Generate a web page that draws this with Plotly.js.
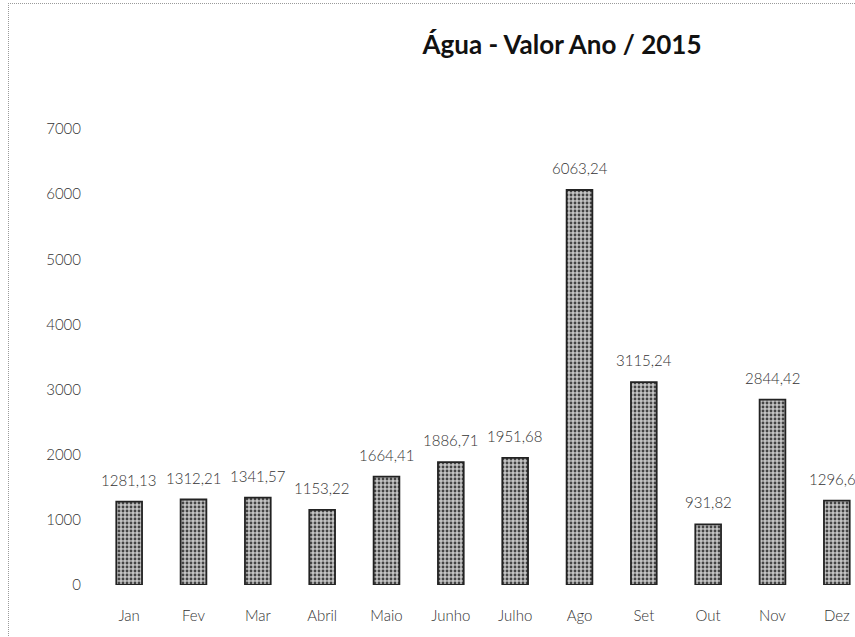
<!DOCTYPE html>
<html>
<head>
<meta charset="utf-8">
<script src="https://cdn.plot.ly/plotly-3.0.1.min.js"></script>
<style>
  html, body { margin: 0; padding: 0; overflow: hidden; background: #fff; }
  #wrap { position: relative; width: 855px; height: 637px; overflow: hidden; }
  #grafico { position: absolute; left: 0; top: 0; }
  /* gepunkteter Rand vom Scan */
  #rand { position: absolute; left: 8px; top: 3px; width: 900px; height: 700px;
          border-left: 1px dotted #9a9a9a; border-top: 1px dotted #9a9a9a; pointer-events: none; }
</style>
</head>
<body>
<div id="wrap">
  <div id="grafico"></div>
  <div id="rand"></div>
</div>
<script>
// Monate und Werte (Wasser 2015)
var meses = ['Jan', 'Fev', 'Mar', 'Abril', 'Maio', 'Junho', 'Julho', 'Ago', 'Set', 'Out', 'Nov', 'Dez'];
var valores = [1281.13, 1312.21, 1341.57, 1153.22, 1664.41, 1886.71, 1951.68, 6063.24, 3115.24, 931.82, 2844.42, 1296.65];
var yTicks = [0, 1000, 2000, 3000, 4000, 5000, 6000, 7000];

var fonte = 'Lato, "Open Sans", sans-serif';

var trace = {
    x: meses,
    y: valores,
    type: 'bar',
    width: 0.4,
    hoverinfo: 'x+y',
    marker: {
        color: '#bdbdbd',
        line: { color: '#222', width: 1.8 },
        pattern: { shape: '.', fgcolor: '#444', bgcolor: '#c4c4c4', size: 4, solidity: 0.4 }
    }
};

// Beschriftungen über den Balken
var anotacoes = [];
for (var i = 0; i < meses.length; i++) {
    anotacoes.push({
        x: meses[i],
        y: valores[i],
        text: valores[i].toFixed(2).replace('.', ','),
        showarrow: false,
        yanchor: 'bottom',
        yshift: 11,
        font: { family: fonte, size: 15, color: '#333', weight: 300 }
    });
}

var layout = {
    width: 890,
    height: 637,
    margin: { l: 97, r: 21, t: 129, b: 52 },
    paper_bgcolor: '#fff',
    plot_bgcolor: '#fff',
    showlegend: false,
    title: {
        text: 'Água - Valor Ano / 2015',
        font: { family: fonte, size: 26, color: '#111', weight: 'bold' },
        xref: 'container', x: 562 / 890, xanchor: 'center',
        yref: 'container', y: 1 - 45 / 637, yanchor: 'middle'
    },
    xaxis: {
        showgrid: false,
        zeroline: false,
        showline: false,
        ticks: '',
        ticklabelstandoff: 20,
        tickfont: { family: fonte, size: 15, color: '#333', weight: 300 }
    },
    yaxis: {
        range: [0, 7000],
        tickvals: yTicks,
        showgrid: false,
        zeroline: false,
        showline: false,
        ticks: '',
        ticklabelstandoff: 15,
        tickfont: { family: fonte, size: 15, color: '#333', weight: 300 }
    },
    annotations: anotacoes
};

Plotly.newPlot('grafico', [trace], layout, { displayModeBar: false, staticPlot: true });
</script>
</body>
</html>
